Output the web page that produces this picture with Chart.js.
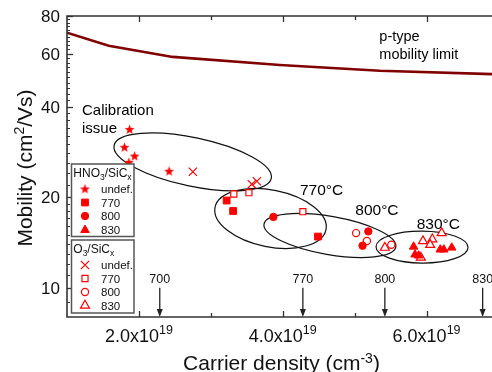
<!DOCTYPE html>
<html><head><meta charset="utf-8">
<script src="https://cdn.jsdelivr.net/npm/chart.js@4.4.1/dist/chart.umd.min.js"></script>
<style>html,body{margin:0;padding:0;background:#fff;overflow:hidden}#wrap{width:492px;height:372px;position:relative}</style>
</head><body><div id="wrap"><canvas id="c" width="492" height="372"></canvas></div>
<script>
// ---------------- data ----------------
const limitDensity  = [1.0e19, 1.58e19, 2.47e19, 3.96e19, 5.35e19, 6.91e19];
const limitMobility = [70.4, 63.7, 58.5, 55.0, 52.6, 51.3];

const hno3UndefDensity  = [1.87e19, 1.80e19, 1.94e19, 1.86e19, 2.42e19];
const hno3UndefMobility = [33.6, 29.3, 27.4, 26.1, 24.4];
const hno3_770Density   = [3.22e19, 3.31e19, 4.49e19];
const hno3_770Mobility  = [19.5, 18.0, 14.8];
const hno3_800Density   = [3.87e19, 5.19e19, 5.11e19];
const hno3_800Mobility  = [17.2, 15.4, 13.8];
const hno3_830Density   = [5.82e19, 5.84e19, 5.89e19, 6.19e19, 6.24e19, 6.35e19];
const hno3_830Mobility  = [13.7, 12.9, 12.8, 13.4, 13.4, 13.6];

const o3UndefDensity  = [2.75e19, 3.57e19, 3.64e19];
const o3UndefMobility = [24.3, 22.1, 22.6];
const o3_770Density   = [3.32e19, 3.53e19, 4.28e19];
const o3_770Mobility  = [20.5, 20.7, 17.9];
const o3_800Density   = [5.02e19, 5.17e19, 5.51e19];
const o3_800Mobility  = [15.2, 14.3, 13.9];
const o3_830Density   = [5.42e19, 5.95e19, 6.08e19, 6.05e19, 6.21e19, 5.92e19];
const o3_830Mobility  = [13.6, 14.3, 14.5, 13.9, 15.2, 12.6];

const annealTemps   = ['700', '770', '800', '830'];
const annealDensity = [2.29e19, 4.28e19, 5.42e19, 6.78e19];

const xMajorTicks = [2e19, 4e19, 6e19];
const xMinorTicks = [3e19, 5e19];
const yMajorTicks = [10, 20, 40, 60, 80];
const yMinorTicks = [9, 11, 12, 13, 14, 15, 16, 17, 18, 19, 22, 24, 26, 28, 30, 32, 34, 36, 38, 42, 44, 46, 48, 50, 52, 54, 56, 58, 62, 64, 66, 68, 70, 72, 74, 76, 78];

const legendLabels = ['undef.', '770', '800', '830'];

// ---------------- annotations (layout) ----------------
const FONT = '"Liberation Sans", Arial, Helvetica, sans-serif';
const notes = [
  {text: 'Calibration',    x: 1.209e19, y: 37.4, size: 15},
  {text: 'issue',          x: 1.209e19, y: 32.6, size: 15},
  {text: '770°C',          x: 4.24e19,  y: 20.4, size: 15.5},
  {text: '800°C',          x: 5.009e19, y: 17.46, size: 15.5},
  {text: '830°C',          x: 5.863e19, y: 15.65, size: 15.5},
  {text: 'p-type',         x: 5.343e19, y: 66.3, size: 14.5},
  {text: 'mobility limit', x: 5.343e19, y: 57.4, size: 14.5}
];
// ellipses: centre in data units, semi-axes in px, rotation in degrees
const ellipses = [
  {cx: 2.748e19, cy: 26.2, a: 80.3, b: 24.3, rot: 11.9},
  {cx: 3.83e19,  cy: 17.0, a: 56.6, b: 28.4, rot: 11.35},
  {cx: 4.656e19, cy: 14.92, a: 66.9, b: 19.1, rot: 9.85},
  {cx: 5.937e19, cy: 13.66, a: 46,   b: 16,   rot: 0.5}
];

// star marker
function makeStar(R, r, color) {
  const s = Math.ceil(R * 2 + 2);
  const c = document.createElement('canvas');
  c.width = s; c.height = s;
  const g = c.getContext('2d');
  g.fillStyle = color;
  g.beginPath();
  for (let i = 0; i < 10; i++) {
    const rad = (i % 2 === 0) ? R : r;
    const ang = -Math.PI / 2 + i * Math.PI / 5;
    const px = s / 2 + rad * Math.cos(ang), py = s / 2 + 0.3 + rad * Math.sin(ang);
    if (i === 0) g.moveTo(px, py); else g.lineTo(px, py);
  }
  g.closePath(); g.fill();
  return c;
}
const RED = '#ff0000';
const star = makeStar(5.2, 2.2, RED);

const styles = {
  hno3Undef: {pointStyle: star, radius: 5, bg: RED, border: RED, bw: 0},
  hno3_770:  {pointStyle: 'rect', radius: 4.8, bg: RED, border: RED, bw: 1},
  hno3_800:  {pointStyle: 'circle', radius: 3.7, bg: RED, border: RED, bw: 1},
  hno3_830:  {pointStyle: 'triangle', radius: 4.9, bg: RED, border: RED, bw: 1},
  o3Undef:   {pointStyle: 'crossRot', radius: 5.8, bg: RED, border: RED, bw: 1.2},
  o3_770:    {pointStyle: 'rect', radius: 4.3, bg: '#fff', border: RED, bw: 1.2},
  o3_800:    {pointStyle: 'circle', radius: 3.6, bg: '#fff', border: RED, bw: 1.2},
  o3_830:    {pointStyle: 'triangle', radius: 5.2, bg: '#fff', border: RED, bw: 1.2}
};

function pts(xs, ys) { return xs.map((x, i) => ({x: x, y: ys[i]})); }
function scatterSet(label, xs, ys, st) {
  return {type: 'scatter', label: label, data: pts(xs, ys), pointStyle: st.pointStyle,
    pointRadius: st.radius, pointBackgroundColor: st.bg, pointBorderColor: st.border,
    pointBorderWidth: st.bw, showLine: false};
}

function richText(ctx, parts, x, y, align) {
  let w = 0;
  parts.forEach(p => { ctx.font = p[1] + 'px ' + FONT; w += ctx.measureText(p[0]).width; });
  let cx = align === 'center' ? x - w / 2 : (align === 'right' ? x - w : x);
  ctx.textAlign = 'left'; ctx.textBaseline = 'alphabetic';
  parts.forEach(p => { ctx.font = p[1] + 'px ' + FONT; ctx.fillText(p[0], cx, y + (p[2] || 0)); cx += ctx.measureText(p[0]).width; });
}

function drawMarker(ctx, st, x, y) {
  ctx.save();
  ctx.fillStyle = st.bg; ctx.strokeStyle = st.border; ctx.lineWidth = st.bw;
  if (typeof st.pointStyle !== 'string') {
    ctx.drawImage(st.pointStyle, x - st.pointStyle.width / 2, y - st.pointStyle.height / 2);
  } else if (Chart.helpers && Chart.helpers.drawPoint) {
    Chart.helpers.drawPoint(ctx, {pointStyle: st.pointStyle, radius: st.radius, rotation: 0, borderWidth: st.bw}, x, y);
  }
  ctx.restore();
}

const decor = {
  id: 'decor',
  beforeDatasetsDraw(chart) {
    const ctx = chart.ctx, xs = chart.scales.x, ys = chart.scales.y, ca = chart.chartArea;
    ctx.save();
    ctx.beginPath(); ctx.rect(ca.left, ca.top, ca.right - ca.left, ca.bottom - ca.top); ctx.clip();
    ctx.strokeStyle = '#111'; ctx.lineWidth = 1.2;
    ellipses.forEach(e => {
      ctx.beginPath();
      ctx.ellipse(xs.getPixelForValue(e.cx), ys.getPixelForValue(e.cy), e.a, e.b, e.rot * Math.PI / 180, 0, Math.PI * 2);
      ctx.stroke();
    });
    ctx.restore();
  },
  afterDatasetsDraw(chart) {
    const ctx = chart.ctx, xs = chart.scales.x, ys = chart.scales.y, ca = chart.chartArea;
    ctx.save();
    ctx.fillStyle = '#000';
    // annotation texts
    notes.forEach(n => {
      ctx.font = n.size + 'px ' + FONT; ctx.textAlign = 'left'; ctx.textBaseline = 'alphabetic';
      ctx.fillText(n.text, xs.getPixelForValue(n.x), ys.getPixelForValue(n.y));
    });
    // anneal arrows
    const y10 = ys.getPixelForValue(10);
    ctx.strokeStyle = '#222'; ctx.fillStyle = '#222'; ctx.lineWidth = 1.3;
    annealDensity.forEach((d, i) => {
      const px = xs.getPixelForValue(d);
      ctx.beginPath(); ctx.moveTo(px, y10); ctx.lineTo(px, ca.bottom - 5); ctx.stroke();
      ctx.beginPath(); ctx.moveTo(px - 3, ca.bottom - 8); ctx.lineTo(px + 3, ca.bottom - 8); ctx.lineTo(px, ca.bottom); ctx.closePath(); ctx.fill();
      ctx.fillStyle = '#111';
      ctx.font = '12.5px ' + FONT; ctx.textAlign = 'center'; ctx.textBaseline = 'alphabetic';
      ctx.fillText(annealTemps[i], px, y10 - 5);
      ctx.fillStyle = '#222';
    });
    // frame
    ctx.strokeStyle = '#333'; ctx.lineWidth = 1.6;
    ctx.beginPath();
    ctx.moveTo(ca.right, ca.top); ctx.lineTo(ca.left, ca.top); ctx.lineTo(ca.left, ca.bottom); ctx.lineTo(ca.right, ca.bottom);
    ctx.stroke();
    ctx.lineWidth = 1.3;
    // x ticks (bottom and top, inward)
    xMajorTicks.forEach(v => { const p = Math.round(xs.getPixelForValue(v)) + 0.5;
      ctx.beginPath(); ctx.moveTo(p, ca.bottom); ctx.lineTo(p, ca.bottom - 6); ctx.moveTo(p, ca.top); ctx.lineTo(p, ca.top + 6); ctx.stroke(); });
    xMinorTicks.forEach(v => { const p = Math.round(xs.getPixelForValue(v)) + 0.5;
      ctx.beginPath(); ctx.moveTo(p, ca.bottom); ctx.lineTo(p, ca.bottom - 4); ctx.moveTo(p, ca.top); ctx.lineTo(p, ca.top + 4); ctx.stroke(); });
    // y ticks
    yMajorTicks.forEach(v => { const p = Math.round(ys.getPixelForValue(v)) + 0.5;
      ctx.beginPath(); ctx.moveTo(ca.left, p); ctx.lineTo(ca.left + 6, p); ctx.stroke(); });
    ctx.lineWidth = 1;
    yMinorTicks.forEach(v => { const p = Math.round(ys.getPixelForValue(v)) + 0.5;
      ctx.beginPath(); ctx.moveTo(ca.left, p); ctx.lineTo(ca.left + 3, p); ctx.stroke(); });
    // y tick labels
    ctx.fillStyle = '#111';
    ctx.font = '17px ' + FONT; ctx.textAlign = 'right'; ctx.textBaseline = 'alphabetic';
    yMajorTicks.forEach(v => ctx.fillText(String(v), ca.left - 7, ys.getPixelForValue(v) + 6));
    // x tick labels
    xMajorTicks.forEach(v => {
      const mant = (v / 1e19).toFixed(1);
      richText(ctx, [[mant + 'x10', 18], ['19', 12.5, -7.7]], xs.getPixelForValue(v), ca.bottom + 24.7, 'center');
    });
    // axis titles
    richText(ctx, [['Carrier density (cm', 21], ['-3', 14, -7.5], [')', 21]], 281.5, 370, 'center');
    ctx.save();
    ctx.translate(31.5, 168); ctx.rotate(-Math.PI / 2);
    richText(ctx, [['Mobility (cm', 21], ['2', 14, -7.5], ['/Vs)', 21]], 0, 0, 'center');
    ctx.restore();
    // legends
    const boxes = [
      {x: 71.5, y: 164, w: 62.5, h: 72.5, title: [['HNO', 12], ['3', 8.5, 3], ['/SiC', 12], ['x', 8.5, 3]],
       keys: ['hno3Undef', 'hno3_770', 'hno3_800', 'hno3_830'], rows: [189, 202.5, 216, 230]},
      {x: 71.5, y: 240, w: 62.5, h: 73, title: [['O', 12], ['3', 8.5, 3], ['/SiC', 12], ['x', 8.5, 3]],
       keys: ['o3Undef', 'o3_770', 'o3_800', 'o3_830'], rows: [265, 278.5, 292, 305.5]}
    ];
    boxes.forEach(b => {
      ctx.fillStyle = '#fff'; ctx.fillRect(b.x, b.y, b.w, b.h);
      ctx.strokeStyle = '#555'; ctx.lineWidth = 1.5; ctx.strokeRect(b.x, b.y, b.w, b.h);
      ctx.fillStyle = '#111';
      richText(ctx, b.title, b.x + 1.8, b.y + 12.5, 'left');
      b.keys.forEach((k, i) => {
        drawMarker(ctx, styles[k], b.x + 13.5, b.rows[i]);
        ctx.fillStyle = '#111'; ctx.font = '11.5px ' + FONT; ctx.textAlign = 'left'; ctx.textBaseline = 'alphabetic';
        ctx.fillText(legendLabels[i], b.x + 29.5, b.rows[i] + 4.2);
      });
    });
    ctx.restore();
  }
};

new Chart(document.getElementById('c'), {
  type: 'scatter',
  data: {
    datasets: [
      scatterSet('HNO3 undef.', hno3UndefDensity, hno3UndefMobility, styles.hno3Undef),
      scatterSet('HNO3 770', hno3_770Density, hno3_770Mobility, styles.hno3_770),
      scatterSet('HNO3 800', hno3_800Density, hno3_800Mobility, styles.hno3_800),
      scatterSet('HNO3 830', hno3_830Density, hno3_830Mobility, styles.hno3_830),
      scatterSet('O3 undef.', o3UndefDensity, o3UndefMobility, styles.o3Undef),
      scatterSet('O3 770', o3_770Density, o3_770Mobility, styles.o3_770),
      scatterSet('O3 800', o3_800Density, o3_800Mobility, styles.o3_800),
      scatterSet('O3 830', o3_830Density, o3_830Mobility, styles.o3_830),
      {type: 'line', label: 'p-type mobility limit', data: pts(limitDensity, limitMobility),
       borderColor: '#800000', borderWidth: 2.6, pointRadius: 0, tension: 0, fill: false}
    ]
  },
  options: {
    responsive: false, animation: false, events: [],
    layout: {autoPadding: false, padding: {left: 67, top: 16, right: 0, bottom: 55}},
    plugins: {legend: {display: false}, tooltip: {enabled: false}},
    scales: {
      x: {type: 'linear', min: 1e19, max: 6.91e19, display: false},
      y: {type: 'logarithmic', min: 8, max: 80, display: false}
    }
  },
  plugins: [decor]
});
</script>
</body></html>
